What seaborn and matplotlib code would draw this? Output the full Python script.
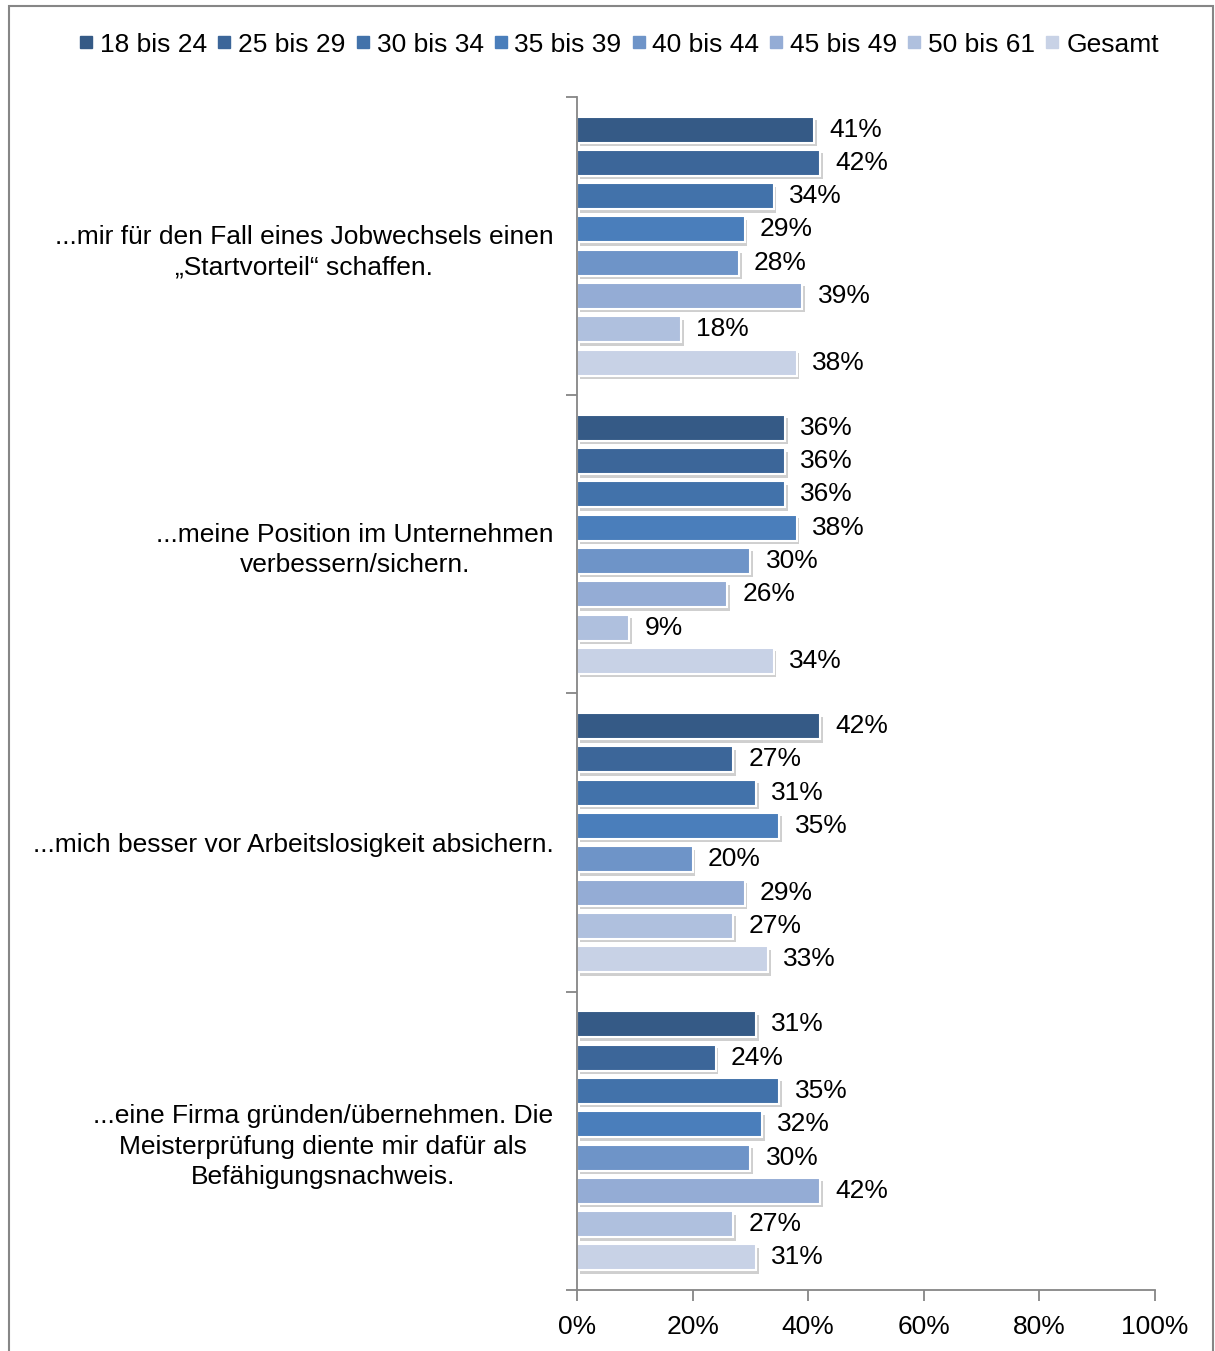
import pandas as pd
import matplotlib
matplotlib.use("Agg")
import matplotlib.pyplot as plt
import matplotlib.patheffects as pe
from matplotlib.lines import Line2D
from matplotlib.patches import Rectangle
import seaborn as sns

# data
aussagen = [
    "...mir für den Fall eines Jobwechsels einen\n„Startvorteil“ schaffen.",
    "...meine Position im Unternehmen\nverbessern/sichern.",
    "...mich besser vor Arbeitslosigkeit absichern.",
    "...eine Firma gründen/übernehmen. Die\nMeisterprüfung diente mir dafür als\nBefähigungsnachweis.",
]
gruppen = ["18 bis 24", "25 bis 29", "30 bis 34", "35 bis 39",
           "40 bis 44", "45 bis 49", "50 bis 61", "Gesamt"]
startvorteil = [41, 42, 34, 29, 28, 39, 18, 38]
position = [36, 36, 36, 38, 30, 26, 9, 34]
arbeitslosigkeit = [42, 27, 31, 35, 20, 29, 27, 33]
firma = [31, 24, 35, 32, 30, 42, 27, 31]
farben = ["#355A86", "#3C6699", "#4272AA", "#4A7EBB",
          "#6E94C8", "#94ACD5", "#AFC0DE", "#C8D2E6"]

rows = []
for a, werte in zip(aussagen, [startvorteil, position, arbeitslosigkeit, firma]):
    for g, w in zip(gruppen, werte):
        rows.append({"Aussage": a, "Alter": g, "Wert": w})
df = pd.DataFrame(rows)

sns.set_style("ticks")
plt.rcParams["font.family"] = ["Liberation Sans", "DejaVu Sans"]
fs = 19
grau = "#868686"

fig = plt.figure(figsize=(12.15, 13.51), dpi=100)
ax = fig.add_axes([0.4749, 0.04515, 0.4757, 0.8831])

sns.barplot(data=df, y="Aussage", x="Wert", hue="Alter", palette=farben,
            orient="h", width=0.893, gap=0.22, legend=False, ax=ax,
            edgecolor="white", linewidth=1.5, saturation=1)

shadow = [pe.SimplePatchShadow(offset=(2, -2.5), shadow_rgbFace="#777777", alpha=0.35),
          pe.Normal()]
for cont in ax.containers:
    for p in cont:
        p.set_path_effects(shadow)
    ax.bar_label(cont, labels=[f"{int(v)}%" for v in cont.datavalues],
                 padding=11, fontsize=fs, color="black")

ax.set_xlim(0, 100)
ax.set_ylim(3.5, -0.5)
ax.set_xticks([0, 20, 40, 60, 80, 100])
ax.set_xticklabels([f"{t}%" for t in [0, 20, 40, 60, 80, 100]], fontsize=fs, color="black")
ax.set_yticks(range(4))
ax.set_yticklabels(aussagen, fontsize=fs, multialignment="center", color="black",
                   linespacing=1.35)
ax.set_yticks([-0.5, 0.5, 1.5, 2.5, 3.5], minor=True)
ax.tick_params(axis="y", which="major", left=True, length=0, pad=17)
ax.tick_params(axis="y", which="minor", left=True, length=8, color=grau, width=1.3, direction="out")
ax.tick_params(axis="x", bottom=True, length=8, color=grau, width=1.3, direction="out", pad=10)
ax.set_xlabel("")
ax.set_ylabel("")
for s in ["top", "right"]:
    ax.spines[s].set_visible(False)
for s in ["left", "bottom"]:
    ax.spines[s].set_color(grau)
    ax.spines[s].set_linewidth(1.3)

handles = [Line2D([], [], marker="s", linestyle="none", markersize=8,
                  markerfacecolor=c, markeredgecolor=c) for c in farben]
fig.legend(handles, gruppen, loc="center", bbox_to_anchor=(0.51, 0.967), ncol=8,
           frameon=False, fontsize=fs, handlelength=0.45, handletextpad=0.3,
           columnspacing=0.42, borderaxespad=0, labelcolor="black")

fig.patches.append(Rectangle((9 / 1215, -0.05), (1213 - 9) / 1215, 1.05 - 6 / 1351,
                             transform=fig.transFigure, fill=False,
                             edgecolor=grau, linewidth=1.5))

fig.savefig("out.png", dpi=100)
